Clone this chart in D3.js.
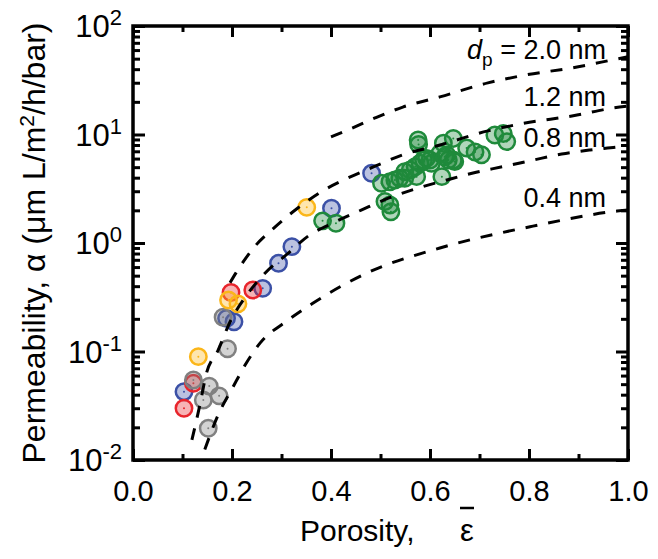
<!DOCTYPE html>
<html>
<head>
<meta charset="utf-8">
<script src="https://cdn.jsdelivr.net/npm/d3@7"></script>
<style>
  body { margin: 0; background: #fff; }
  text { font-family: "Liberation Sans", Arial, sans-serif; fill: #000; }
</style>
</head>
<body>
<div id="container"></div>
<script>
/* CONSTANTS AND GLOBALS */
const width = 658,
  height = 559,
  margin = { top: 26, bottom: 99, left: 133, right: 30 };

/* DATA */
// tick values and labels
const xMajor = [0, 0.2, 0.4, 0.6, 0.8, 1.0];
const xMinor = [0.1, 0.3, 0.5, 0.7, 0.9];
const yMajor = [0.01, 0.1, 1, 10, 100];
const yExponents = ["-2", "-1", "0", "1", "2"];

// model curves for each pore diameter [porosity, permeability]
const curve20 = [[0.40, 9.5], [0.434, 11.0], [0.489, 14.2], [0.545, 17.9], [0.620, 22.2],
  [0.717, 29.9], [0.782, 34.6], [0.897, 41.9], [0.978, 49.7], [1.0, 52]];
const curve12 = [[0.196, 0.43], [0.208, 0.53], [0.247, 0.94], [0.285, 1.38], [0.333, 2.10],
  [0.382, 3.0], [0.434, 3.97], [0.489, 5.1], [0.545, 6.5], [0.620, 8.0], [0.717, 10.8],
  [0.782, 12.5], [0.897, 15.1], [0.968, 17.5], [1.0, 18.3]];
const curve08 = [[0.119, 0.0153], [0.135, 0.032], [0.148, 0.062], [0.172, 0.103], [0.196, 0.187],
  [0.230, 0.332], [0.267, 0.53], [0.310, 0.78], [0.354, 1.16], [0.408, 1.56], [0.461, 2.01],
  [0.517, 2.6], [0.576, 3.21], [0.634, 3.81], [0.687, 4.42], [0.748, 5.06], [0.809, 5.82],
  [0.866, 6.61], [0.923, 7.2], [0.978, 7.67], [1.0, 7.9]];
const curve04 = [[0.145, 0.0125], [0.172, 0.026], [0.202, 0.047], [0.228, 0.077], [0.257, 0.12],
  [0.310, 0.19], [0.364, 0.28], [0.473, 0.53], [0.620, 0.90], [0.808, 1.43], [0.978, 1.97], [1.0, 2.02]];
const curveNames = ["2.0 nm", "1.2 nm", "0.8 nm", "0.4 nm"];

// measured membranes [porosity, permeability]
const bluePts = [[0.482, 4.39], [0.401, 2.09], [0.321, 0.925], [0.294, 0.65], [0.262, 0.382],
  [0.189, 0.202], [0.204, 0.188], [0.103, 0.0426]];
const redPts = [[0.103, 0.030], [0.122, 0.0509], [0.198, 0.35], [0.242, 0.369]];
const grayPts = [[0.182, 0.207], [0.191, 0.106], [0.122, 0.0546], [0.154, 0.048], [0.142, 0.0357],
  [0.174, 0.039], [0.152, 0.0196]];
const yellowPts = [[0.351, 2.13], [0.132, 0.0896], [0.193, 0.298], [0.212, 0.275]];
const greenPts = [[0.383, 1.60], [0.410, 1.52], [0.502, 3.55], [0.519, 3.67], [0.529, 3.81],
  [0.539, 3.95], [0.549, 3.95], [0.549, 4.54], [0.560, 4.71], [0.570, 5.05], [0.573, 4.09],
  [0.580, 5.43], [0.587, 5.82], [0.593, 6.03], [0.600, 5.82], [0.603, 5.43], [0.620, 6.70],
  [0.624, 4.09], [0.630, 6.24], [0.634, 6.47], [0.637, 5.82], [0.647, 5.82], [0.650, 5.62],
  [0.576, 8.9], [0.577, 8.1], [0.627, 8.3], [0.647, 9.2], [0.674, 7.5], [0.691, 6.9],
  [0.704, 6.5], [0.731, 9.9], [0.748, 10.2], [0.755, 8.6], [0.509, 2.41], [0.519, 2.24],
  [0.521, 1.94]];

// SCALES
const xScale = d3.scaleLinear()
  .domain([0, 1])
  .range([margin.left, width - margin.right]);

const yScale = d3.scaleLog()
  .domain([0.01, 100])
  .range([height - margin.bottom, margin.top]);

// CREATE SVG ELEMENT
const svg = d3.select("#container")
  .append("svg")
  .attr("width", width)
  .attr("height", height);

const x0 = xScale.range()[0], x1 = xScale.range()[1];
const y0 = yScale.range()[0], y1 = yScale.range()[1];

// minor ticks on the log axis
const yMinor = [];
yMajor.slice(0, -1).forEach(d => {
  for (let k = 2; k <= 9; k++) yMinor.push(d * k);
});

// AXES (ticks point inward on all four sides)
function styleAxis(g) {
  g.select(".domain").remove();
  g.selectAll(".tick line").attr("stroke", "#000").attr("stroke-width", 3);
}

svg.append("g")
  .attr("transform", `translate(0,${y0})`)
  .call(d3.axisBottom(xScale).tickValues(xMajor).tickSize(-11).tickPadding(20)
    .tickFormat(d => d.toFixed(1)))
  .call(styleAxis)
  .call(g => g.selectAll("text").attr("font-size", 29).attr("font-family", "Liberation Sans"));

svg.append("g")
  .attr("transform", `translate(0,${y0})`)
  .call(d3.axisBottom(xScale).tickValues(xMinor).tickSize(-6).tickFormat(""))
  .call(styleAxis);

svg.append("g")
  .attr("transform", `translate(0,${y1})`)
  .call(d3.axisTop(xScale).tickValues(xMajor).tickSize(-11).tickFormat(""))
  .call(styleAxis);

svg.append("g")
  .attr("transform", `translate(0,${y1})`)
  .call(d3.axisTop(xScale).tickValues(xMinor).tickSize(-6).tickFormat(""))
  .call(styleAxis);

svg.append("g")
  .attr("transform", `translate(${x0},0)`)
  .call(d3.axisLeft(yScale).tickValues(yMajor).tickSize(-12).tickFormat(""))
  .call(styleAxis);

svg.append("g")
  .attr("transform", `translate(${x0},0)`)
  .call(d3.axisLeft(yScale).tickValues(yMinor).tickSize(-7).tickFormat(""))
  .call(styleAxis);

svg.append("g")
  .attr("transform", `translate(${x1},0)`)
  .call(d3.axisRight(yScale).tickValues(yMajor).tickSize(-12).tickFormat(""))
  .call(styleAxis);

svg.append("g")
  .attr("transform", `translate(${x1},0)`)
  .call(d3.axisRight(yScale).tickValues(yMinor).tickSize(-7).tickFormat(""))
  .call(styleAxis);

// y tick labels as 10 with superscript exponent
const yLab = svg.append("g").selectAll("text")
  .data(yMajor)
  .join("text")
    .attr("x", x0 - 11)
    .attr("y", d => yScale(d) + 11)
    .attr("text-anchor", "end")
    .attr("font-size", 31);
yLab.append("tspan").text("10");
yLab.append("tspan")
  .attr("dy", -12)
  .attr("font-size", 22)
  .text((d, i) => yExponents[i]);

// frame
svg.append("rect")
  .attr("x", x0)
  .attr("y", y1)
  .attr("width", x1 - x0)
  .attr("height", y0 - y1)
  .attr("fill", "none")
  .attr("stroke", "#000")
  .attr("stroke-width", 3.5);

// SCATTER
const groups = [
  { pts: bluePts, color: "#3b50a6" },
  { pts: redPts, color: "#e8252c" },
  { pts: grayPts, color: "#808080" },
  { pts: yellowPts, color: "#fbb619" },
  { pts: greenPts, color: "#1f8a3b" }
];

groups.forEach(gr => {
  const g = svg.append("g");
  const pt = g.selectAll("g")
    .data(gr.pts)
    .join("g")
      .attr("transform", d => `translate(${xScale(d[0])},${yScale(d[1])})`);
  pt.append("circle")
    .attr("r", 8.2)
    .attr("fill", gr.color)
    .attr("fill-opacity", 0.35)
    .attr("stroke", gr.color)
    .attr("stroke-width", 2.5);
  pt.append("circle")
    .attr("r", 1)
    .attr("fill", gr.color);
});

// MODEL CURVES
const lineGen = d3.line()
  .x(d => xScale(d[0]))
  .y(d => yScale(d[1]))
  .curve(d3.curveMonotoneX);

[curve20, curve12, curve08, curve04].forEach(c => {
  svg.append("path")
    .datum(c)
    .attr("d", lineGen)
    .attr("fill", "none")
    .attr("stroke", "#000")
    .attr("stroke-width", 3)
    .attr("stroke-dasharray", "12,11");
});

// curve labels
const labelY = [59, 106, 147, 207];
curveNames.forEach((name, i) => {
  const t = svg.append("text")
    .attr("x", 606)
    .attr("y", labelY[i])
    .attr("text-anchor", "end")
    .attr("font-size", 27);
  if (i === 0) {
    t.append("tspan").attr("font-style", "italic").text("d");
    t.append("tspan").attr("font-size", 19).attr("dy", 7).text("p");
    t.append("tspan").attr("dy", -7).text(" = " + name);
  } else {
    t.text(name);
  }
});

// AXIS TITLES
const xTitleY = 541, epsX = 467;
svg.append("text")
  .attr("x", 300)
  .attr("y", xTitleY)
  .attr("font-size", 30)
  .text("Porosity,");
svg.append("text")
  .attr("x", epsX)
  .attr("y", xTitleY)
  .attr("text-anchor", "middle")
  .attr("font-family", "Liberation Serif")
  .attr("font-size", 31)
  .text("ε");
svg.append("line")
  .attr("x1", epsX - 7)
  .attr("x2", epsX + 7)
  .attr("y1", xTitleY - 33)
  .attr("y2", xTitleY - 33)
  .attr("stroke", "#000")
  .attr("stroke-width", 2.5);

const yTitle = svg.append("text")
  .attr("transform", `translate(45,${(y0 + y1) / 2}) rotate(-90)`)
  .attr("text-anchor", "middle")
  .attr("font-size", 32);
yTitle.append("tspan").text("Permeability, α (μm L/m");
yTitle.append("tspan").attr("dy", -11).attr("font-size", 21).text("2");
yTitle.append("tspan").attr("dy", 11).text("/h/bar)");
</script>
</body>
</html>
